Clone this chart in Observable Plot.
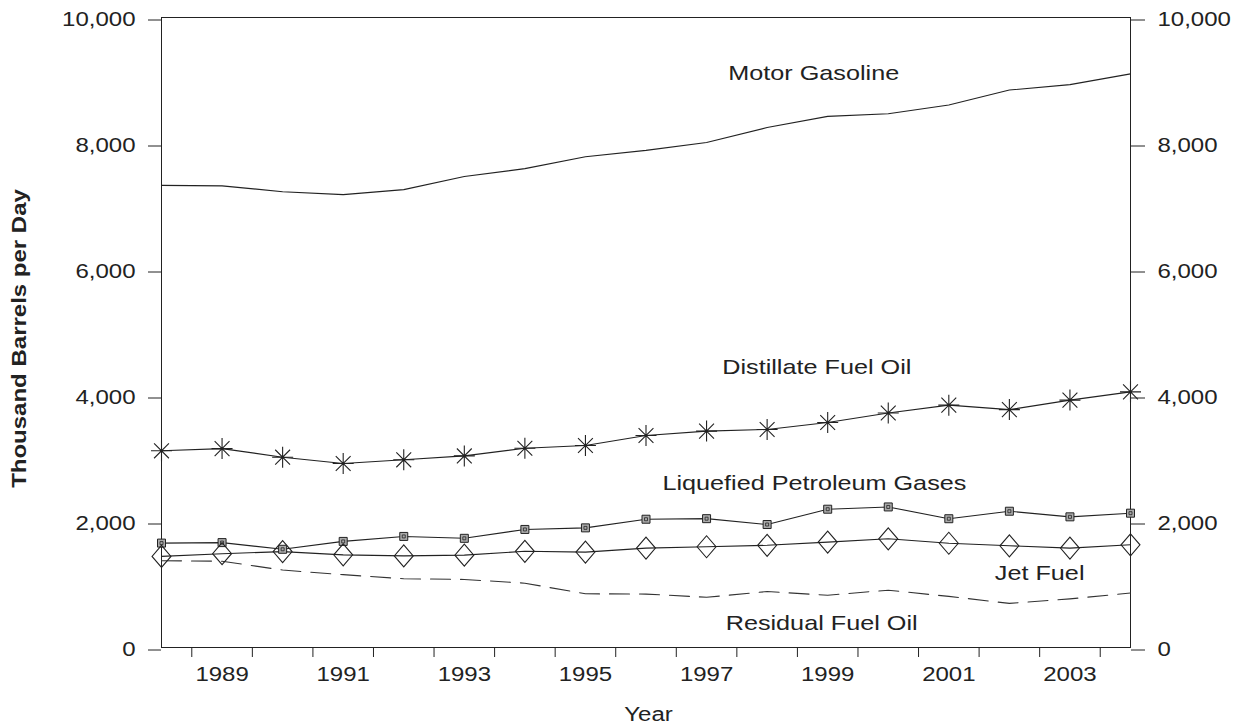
<!DOCTYPE html>
<html><head><meta charset="utf-8">
<script src="https://cdn.jsdelivr.net/npm/d3@7"></script>
<script src="https://cdn.jsdelivr.net/npm/@observablehq/plot@0.6"></script>
<style>
html,body{margin:0;padding:0;background:#fff;}
</style>
</head><body>
<div id="chart"></div>
<script>
// ---- data (thousand barrels per day) ----
const years = [1988,1989,1990,1991,1992,1993,1994,1995,1996,1997,1998,1999,2000,2001,2002,2003,2004];
const motorGasoline = [7336,7328,7235,7188,7268,7476,7601,7789,7891,8017,8253,8431,8472,8610,8848,8935,9105];
const distillateFuelOil = [3122,3157,3021,2921,2979,3041,3162,3207,3365,3435,3461,3572,3722,3847,3776,3927,4058];
const liquefiedPetroleumGases = [1657,1665,1559,1684,1763,1733,1874,1899,2036,2045,1952,2195,2231,2044,2163,2074,2132];
const jetFuel = [1446,1489,1522,1471,1454,1466,1527,1514,1578,1599,1622,1673,1725,1655,1614,1578,1630];
const residualFuelOil = [1378,1370,1229,1156,1091,1080,1021,852,848,797,888,830,909,811,700,772,865];

const yTicks = [0,2000,4000,6000,8000,10000];
const xTickLabels = [1989,1991,1993,1995,1997,1999,2001,2003];
const xTickMarks = [1988.5,1989.5,1990.5,1991.5,1992.5,1993.5,1994.5,1995.5,1996.5,1997.5,1998.5,1999.5,2000.5,2001.5,2002.5,2003.5];

const labelNames = ["Motor Gasoline","Distillate Fuel Oil","Liquefied Petroleum Gases","Jet Fuel","Residual Fuel Oil"];
const labelX = [1998.77, 1998.82, 1998.78, 2002.5, 1998.9];
const labelY = [9111, 4444, 2611, 1175, 389];

// ---- tables ----
const toRows = vals => years.map((year, i) => ({year, value: vals[i]}));
const gas = toRows(motorGasoline);
const dist = toRows(distillateFuelOil);
const lpg = toRows(liquefiedPetroleumGases);
const jet = toRows(jetFuel);
const resid = toRows(residualFuelOil);
const labels = labelNames.map((name, i) => ({name, x: labelX[i], y: labelY[i]}));

// ---- custom symbols ----
const rad = size => Math.sqrt(size / Math.PI);
const asterisk8 = {draw(ctx, size) {
  const r = rad(size), d = r * Math.SQRT1_2;
  ctx.moveTo(-r, 0); ctx.lineTo(r, 0);
  ctx.moveTo(0, -r); ctx.lineTo(0, r);
  ctx.moveTo(-d, -d); ctx.lineTo(d, d);
  ctx.moveTo(-d, d); ctx.lineTo(d, -d);
}};
const diamond = {draw(ctx, size) {
  const r = rad(size), w = r * 0.86;
  ctx.moveTo(0, -r); ctx.lineTo(w, 0); ctx.lineTo(0, r); ctx.lineTo(-w, 0); ctx.closePath();
}};
const square = {draw(ctx, size) {
  const r = rad(size);
  ctx.rect(-r, -r, 2 * r, 2 * r);
}};

const ink = "#222";
const fmtComma = d3.format(",");

const plot = Plot.plot({
  width: 1242,
  height: 725,
  marginTop: 17,
  marginBottom: 78,
  marginLeft: 161,
  marginRight: 112,
  style: {fontFamily: "'Liberation Sans', Arial, sans-serif", fontSize: "20px", color: ink, background: "#fff"},
  x: {domain: [1988, 2004]},
  y: {domain: [0, 10000]},
  marks: [
    Plot.frame({stroke: ink, strokeWidth: 1}),
    Plot.axisY(yTicks, {anchor: "left", tickSize: 13, tickPadding: 13, dy: 2.5, tickFormat: fmtComma, label: null, stroke: ink}),
    Plot.axisY(yTicks, {anchor: "right", tickSize: 14, tickPadding: 13, dy: 2.5, tickFormat: fmtComma, label: null, stroke: ink}),
    Plot.axisX(xTickMarks, {anchor: "bottom", tickSize: 10, tickFormat: () => "", label: null, stroke: ink}),
    Plot.axisX(xTickLabels, {anchor: "bottom", tickSize: 0, tickPadding: 19, tickFormat: d3.format("d"), label: null}),
    // series lines
    Plot.line(gas, {x: "year", y: "value", stroke: ink, strokeWidth: 1.1}),
    Plot.line(dist, {x: "year", y: "value", stroke: ink, strokeWidth: 1.1}),
    Plot.line(lpg, {x: "year", y: "value", stroke: ink, strokeWidth: 1.1}),
    Plot.line(jet, {x: "year", y: "value", stroke: ink, strokeWidth: 1.1}),
    Plot.line(resid, {x: "year", y: "value", stroke: "#333", strokeWidth: 1.1, strokeDasharray: "20,10"}),
    // markers
    Plot.dot(dist, {x: "year", y: "value", symbol: asterisk8, r: 10.5, stroke: ink, strokeWidth: 1.1, fill: "none"}),
    Plot.dot(lpg, {x: "year", y: "value", symbol: square, r: 4, stroke: ink, strokeWidth: 1, fill: "#aaa"}),
    Plot.dot(lpg, {x: "year", y: "value", symbol: square, r: 1.5, stroke: ink, strokeWidth: 0.8, fill: "none"}),
    Plot.dot(jet, {x: "year", y: "value", symbol: diamond, r: 11, stroke: ink, strokeWidth: 1.1, fill: "none"}),
    // series labels
    Plot.text(labels, {x: "x", y: "y", text: "name", fontSize: 21, fill: ink, textAnchor: "middle", lineAnchor: "middle"}),
    // axis titles
    Plot.text(["Thousand Barrels per Day"], {frameAnchor: "left", dx: -142, dy: 6, rotate: -90, fontWeight: "bold", fontSize: 20, fill: ink, textAnchor: "middle", lineAnchor: "middle"}),
    Plot.text(["Year"], {frameAnchor: "bottom", dx: 2.5, dy: 67, fontSize: 20, fill: ink, textAnchor: "middle", lineAnchor: "middle"})
  ]
});

document.getElementById("chart").append(plot);

// widen glyphs horizontally to match the reference's broad sans-serif face
plot.querySelectorAll("text").forEach(t => {
  const L = t.getComputedTextLength();
  if (L > 0) {
    t.setAttribute("textLength", (L * 1.2).toFixed(2));
    t.setAttribute("lengthAdjust", "spacingAndGlyphs");
  }
});
</script>
</body></html>
